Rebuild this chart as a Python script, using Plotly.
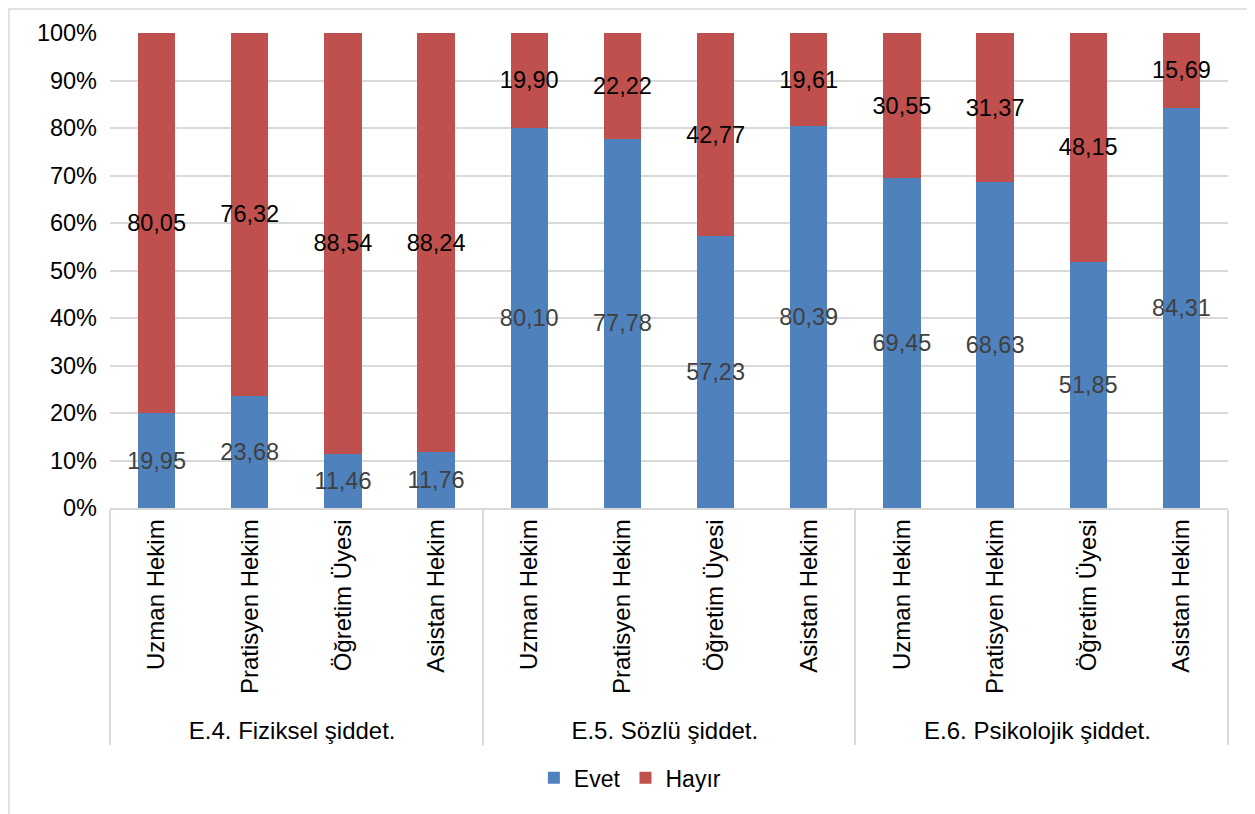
import plotly.graph_objects as go

groups = ["E.4. Fiziksel şiddet.", "E.5. Sözlü şiddet.", "E.6. Psikolojik şiddet."]
roles = ["Uzman Hekim", "Pratisyen Hekim", "Öğretim Üyesi", "Asistan Hekim"]
evet = [19.95, 23.68, 11.46, 11.76, 80.10, 77.78, 57.23, 80.39, 69.45, 68.63, 51.85, 84.31]
hayir = [80.05, 76.32, 88.54, 88.24, 19.90, 22.22, 42.77, 19.61, 30.55, 31.37, 48.15, 15.69]
y_ticks = [0, 10, 20, 30, 40, 50, 60, 70, 80, 90, 100]

x_outer = [g for g in groups for _ in roles]
x_inner = [r for _ in groups for r in roles]

def fmt(v):
    return f"{v:.2f}".replace(".", ",")

FONT = "Liberation Sans, Arial, sans-serif"

fig = go.Figure()
fig.add_trace(go.Bar(
    name="Evet", x=[x_outer, x_inner], y=evet,
    marker=dict(color="#4F81BD", line=dict(width=0)),
    text=[fmt(v) for v in evet], textposition="inside", insidetextanchor="middle",
    textangle=0, constraintext="none",
    textfont=dict(family=FONT, size=23.5, color="#404040"),
))
fig.add_trace(go.Bar(
    name="Hayır", x=[x_outer, x_inner], y=hayir,
    marker=dict(color="#C0504D", line=dict(width=0)),
    text=[fmt(v) for v in hayir], textposition="inside", insidetextanchor="middle",
    textangle=0, constraintext="none",
    textfont=dict(family=FONT, size=23.5, color="#000000"),
))

W, H = 1247, 814
L, T, R, B = 102, 25, 27, 314
fig.update_layout(
    barmode="stack", bargap=0.6,
    width=W, height=H, autosize=False,
    margin=dict(l=L, r=R, t=T, b=B, pad=0),
    paper_bgcolor="white", plot_bgcolor="white",
    font=dict(family=FONT, size=23, color="#000000"),
    showlegend=True,
    legend=dict(orientation="h", x=0.465, xanchor="center", y=-0.568, yanchor="middle",
                font=dict(family=FONT, size=23, color="#000000"), traceorder="normal",
                itemwidth=30),
)
fig.update_xaxes(
    type="multicategory", tickangle=-90, ticks="", automargin=False,
    showline=True, linecolor="#D9D9D9", linewidth=1.5,
    showdividers=True, dividercolor="#D9D9D9", dividerwidth=1.5,
    tickfont=dict(family=FONT, size=24, color="#000000"),
)
fig.update_yaxes(
    range=[0, 100], tickvals=y_ticks, ticktext=[f"{t}%" for t in y_ticks],
    showgrid=True, gridcolor="#D9D9D9", gridwidth=1.5, zeroline=False,
    ticks="", ticklabelstandoff=12, automargin=False,
    tickfont=dict(family=FONT, size=23.5, color="#000000"),
)
# outer chart border (left and top edges visible)
pw, ph = W - L - R, H - T - B
fig.add_shape(type="rect", xref="paper", yref="paper",
              x0=-(L - 1) / pw, x1=(W - L + 20) / pw, y0=-(B + 20) / ph, y1=1 + (T - 1) / ph,
              line=dict(color="#D9D9D9", width=1.5), fillcolor="rgba(0,0,0,0)", layer="below")

fig.write_html("out.html")
